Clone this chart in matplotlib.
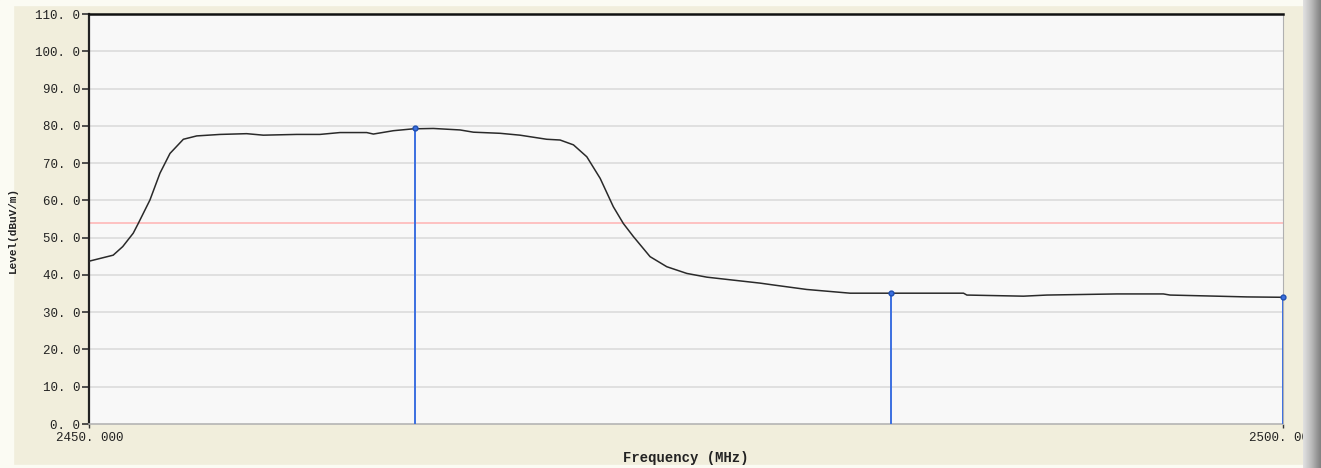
import numpy as np
import matplotlib
matplotlib.use("Agg")
import matplotlib.pyplot as plt

# spectrum trace
freq_mhz = [2450.0, 2451.0, 2451.4, 2451.84, 2452.05, 2452.54, 2452.96, 2453.38,
            2453.94, 2454.5, 2455.48, 2456.59, 2457.29, 2458.69, 2459.66, 2460.5,
            2461.62, 2461.9, 2462.74, 2463.57, 2464.41, 2465.53, 2466.09, 2467.21,
            2468.04, 2469.16, 2469.72, 2470.28, 2470.84, 2471.4, 2471.95, 2472.37,
            2472.79, 2473.49, 2474.19, 2475.03, 2475.87, 2476.98, 2478.1, 2478.66,
            2480.05, 2481.87, 2483.13, 2486.62, 2486.76, 2489.13, 2490.11, 2493.04,
            2494.99, 2495.27, 2497.23, 2498.49, 2500.0]
level_dbuv = [43.7, 45.3, 47.6, 51.2, 53.8, 60.1, 67.3, 72.6,
              76.4, 77.3, 77.7, 77.9, 77.5, 77.7, 77.7, 78.2,
              78.2, 77.8, 78.7, 79.2, 79.3, 78.9, 78.3, 78.0,
              77.5, 76.4, 76.2, 74.9, 71.7, 65.9, 58.3, 53.8,
              50.3, 44.9, 42.2, 40.4, 39.4, 38.6, 37.8, 37.3,
              36.1, 35.1, 35.1, 35.1, 34.6, 34.3, 34.6, 34.9,
              34.9, 34.6, 34.3, 34.1, 34.0]

# peak markers
marker_freq = [2463.64, 2483.58, 2500.0]
marker_level = [79.5, 35.1, 34.0]

limit_level = 54.0
y_ticks = np.arange(0, 111, 10)
x_ticks = [2450.0, 2500.0]


def spaced(value, decimals):
    # the instrument font leaves a gap after the decimal point
    return f"{value:.{decimals}f}".replace(".", ". ")


fig = plt.figure(figsize=(13.21, 4.68), dpi=100)
fig.patch.set_facecolor("#f1eedc")

# window chrome: light strips on the top/left/bottom edges
for rect in [(0, 0.99, 1, 0.01), (0, 0, 0.0095, 1), (0, 0, 1, 0.007)]:
    fig.patches.append(plt.Rectangle(rect[:2], rect[2], rect[3],
                                     transform=fig.transFigure,
                                     color="#fbfbf3", zorder=-5))

ax = fig.add_axes([0.0676, 0.094, 0.9036, 0.876])
ax.set_zorder(2)
ax.set_facecolor("#f8f8f8")

for yv in y_ticks[1:-1]:
    ax.axhline(yv, color="#dcdcdc", lw=1.2, zorder=1)
ax.axhline(limit_level, color="#ffb8b8", lw=1.2, zorder=2)

ax.plot(freq_mhz, level_dbuv, color="#2a2a2a", lw=1.1, zorder=3)

ax.vlines(marker_freq, 0, marker_level, color="#3b6fe0", lw=1.4, zorder=4)
ax.plot(marker_freq, marker_level, "o", ms=3.5, mfc="#3b6fe0", mec="#1f4fb0",
        zorder=5, clip_on=False)

ax.set_xlim(2450, 2500)
ax.set_ylim(0, 110)

mono = "Liberation Mono"
ax.set_yticks(y_ticks)
ax.set_yticklabels([spaced(v, 1) for v in y_ticks], family=mono, fontsize=9,
                   color="#222222")
ax.set_xticks(x_ticks)
ax.set_xticklabels([spaced(v, 3) for v in x_ticks], family=mono, fontsize=9,
                   color="#222222")
ax.tick_params(axis="y", length=5, width=1.2, color="#333333", pad=1.5)
ax.tick_params(axis="x", length=3, width=1.0, color="#333333", pad=3)

ax.set_xlabel("Frequency (MHz)", family=mono, fontsize=10, fontweight="bold",
              color="#222222", labelpad=5)
ax.set_ylabel("Level(dBuV/m)", family=mono, fontsize=8, fontweight="bold",
              color="#222222")
ax.yaxis.set_label_coords(-0.0597, 0.473)

ax.spines["top"].set_color("#111111")
ax.spines["top"].set_linewidth(1.8)
ax.spines["left"].set_color("#222222")
ax.spines["left"].set_linewidth(1.6)
ax.spines["right"].set_color("#b0b0b0")
ax.spines["bottom"].set_color("#b4b4b4")
ax.spines["bottom"].set_linewidth(1.2)

# dark scrollbar-like border on the right edge, over the clipped tick label
edge = fig.add_axes([0.9865, 0, 0.0135, 1])
grad = np.linspace(0, 1, 32).reshape(1, -1)
edge.imshow(grad, aspect="auto", cmap="Greys", vmin=-0.6, vmax=2.2,
            extent=[0, 1, 0, 1])
edge.set_axis_off()
edge.set_zorder(10)

fig.savefig("out.png", dpi=100, facecolor=fig.get_facecolor())
